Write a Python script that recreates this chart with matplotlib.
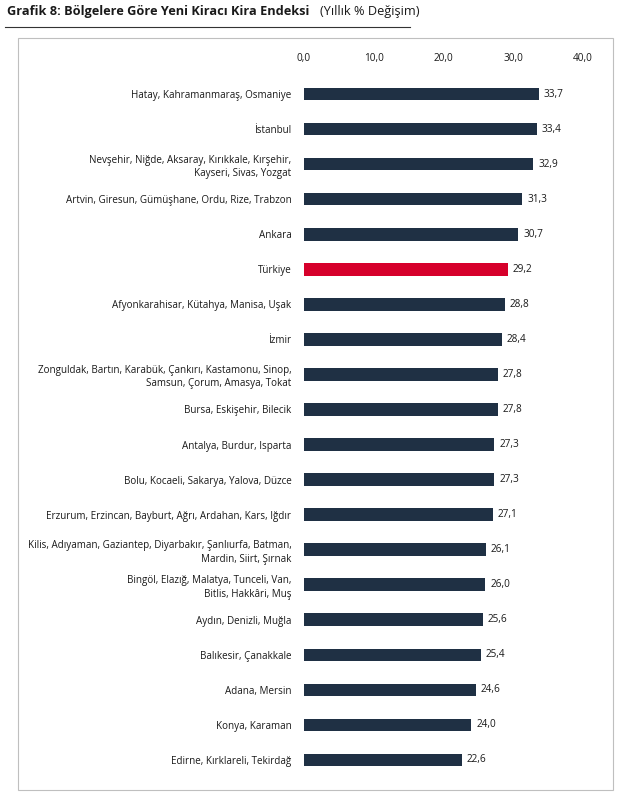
import matplotlib.pyplot as plt
from matplotlib.patches import Rectangle

plt.rcParams['font.family'] = ['Open Sans', 'DejaVu Sans']

regions = [
    "Hatay, Kahramanmaraş, Osmaniye",
    "İstanbul",
    "Nevşehir, Niğde, Aksaray, Kırıkkale, Kırşehir,\nKayseri, Sivas, Yozgat",
    "Artvin, Giresun, Gümüşhane, Ordu, Rize, Trabzon",
    "Ankara",
    "Türkiye",
    "Afyonkarahisar, Kütahya, Manisa, Uşak",
    "İzmir",
    "Zonguldak, Bartın, Karabük, Çankırı, Kastamonu, Sinop,\nSamsun, Çorum, Amasya, Tokat",
    "Bursa, Eskişehir, Bilecik",
    "Antalya, Burdur, Isparta",
    "Bolu, Kocaeli, Sakarya, Yalova, Düzce",
    "Erzurum, Erzincan, Bayburt, Ağrı, Ardahan, Kars, Iğdır",
    "Kilis, Adıyaman, Gaziantep, Diyarbakır, Şanlıurfa, Batman,\nMardin, Siirt, Şırnak",
    "Bingöl, Elazığ, Malatya, Tunceli, Van,\nBitlis, Hakkâri, Muş",
    "Aydın, Denizli, Muğla",
    "Balıkesir, Çanakkale",
    "Adana, Mersin",
    "Konya, Karaman",
    "Edirne, Kırklareli, Tekirdağ",
]
values = [33.7, 33.4, 32.9, 31.3, 30.7, 29.2, 28.8, 28.4, 27.8, 27.8,
          27.3, 27.3, 27.1, 26.1, 26.0, 25.6, 25.4, 24.6, 24.0, 22.6]
ticks = [0, 10, 20, 30, 40]

fig = plt.figure(figsize=(6.3, 7.92), dpi=100)
# outer frame and title
fig.patches.append(Rectangle((18/630, 2/792), 595/630, 752/792, transform=fig.transFigure,
                             fill=False, edgecolor='#bfbfbf', linewidth=0.8))
fig.text(7/630, 1 - 12/792, "Grafik 8: Bölgelere Göre Yeni Kiracı Kira Endeksi", fontsize=9.2,
         fontweight='bold', va='center', color='#1a1a1a')
fig.text(320/630, 1 - 12/792, "(Yıllık % Değişim)", fontsize=9.2, va='center', color='#1a1a1a')
fig.add_artist(plt.Line2D([5/630, 410/630], [1 - 27/792] * 2, color='#333333', linewidth=0.8))

ax = fig.add_axes([304/630, 14.5/792, 279/630, 701/792])
colors = ['#d6002b' if r == "Türkiye" else '#1f3044' for r in regions]
y = list(range(len(regions)))
ax.barh(y, values, height=0.36, color=colors)
for yi, v in zip(y, values):
    ax.text(v + 0.7, yi, f"{v:.1f}".replace('.', ','), va='center', fontsize=7.2, color='#1a1a1a')
ax.set_ylim(19.5, -0.5)
ax.set_xlim(0, 40)
ax.set_yticks(y)
ax.set_yticklabels(regions, fontsize=7.1, color='#1a1a1a', linespacing=1.3)
ax.set_xticks(ticks)
ax.set_xticklabels([f"{t:.1f}".replace('.', ',') for t in ticks], fontsize=7.2, color='#1a1a1a')
ax.xaxis.tick_top()
ax.tick_params(length=0, pad=9)
ax.tick_params(axis='x', pad=9)
for s in ax.spines.values():
    s.set_visible(False)

fig.savefig('out.png', dpi=100)
